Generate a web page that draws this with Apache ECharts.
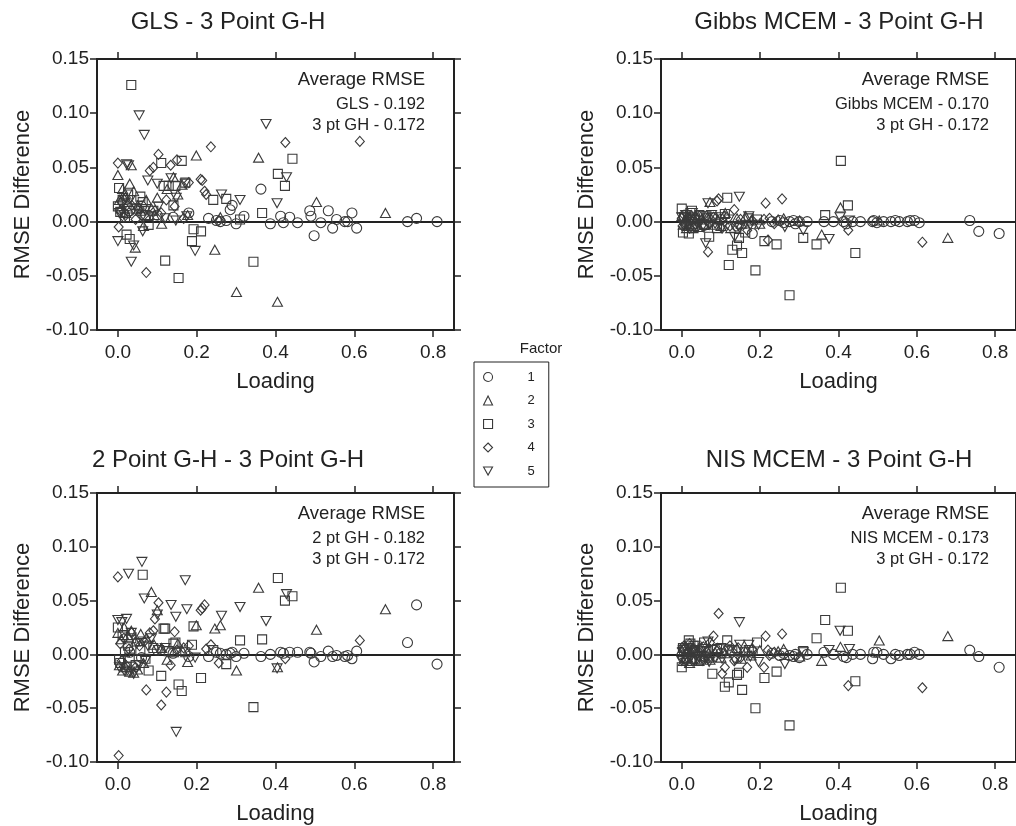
<!DOCTYPE html>
<html><head><meta charset="utf-8">
<script src="https://cdn.jsdelivr.net/npm/echarts@6/dist/echarts.min.js"></script>
<style>html,body{margin:0;padding:0;background:#fff}#c{width:1016px;height:826px}</style>
</head><body><div id="c"></div><script>
// ---------- data ----------
const titles = ['GLS - 3 Point G-H', 'Gibbs MCEM - 3 Point G-H', '2 Point G-H - 3 Point G-H', 'NIS MCEM - 3 Point G-H'];
const methodLines = ['GLS - 0.192', 'Gibbs MCEM - 0.170', '2 pt GH - 0.182', 'NIS MCEM - 0.173'];
const refLine = '3 pt GH - 0.172';
const avgHeader = 'Average RMSE';
const xTicks = [0, 0.2, 0.4, 0.6, 0.8];
const factorNames = ['1', '2', '3', '4', '5'];

// loadings of the items of each factor (shared by all four panels)
const load1 = [0.03, 0.06, 0.10, 0.14, 0.18, 0.23, 0.25, 0.26, 0.275, 0.285, 0.29, 0.30, 0.32, 0.363, 0.387, 0.413, 0.42, 0.436, 0.456, 0.487, 0.49, 0.498, 0.515, 0.534, 0.545, 0.555, 0.576, 0.583, 0.594, 0.606, 0.735, 0.758, 0.81];
const load2 = [0.000, 0.004, 0.008, 0.012, 0.016, 0.020, 0.025, 0.030, 0.034, 0.040, 0.044, 0.050, 0.058, 0.065, 0.072, 0.085, 0.092, 0.100, 0.111, 0.125, 0.141, 0.152, 0.163, 0.177, 0.199, 0.246, 0.260, 0.301, 0.357, 0.405, 0.504, 0.679];
const load3 = [0.000, 0.003, 0.006, 0.012, 0.018, 0.022, 0.026, 0.030, 0.034, 0.045, 0.057, 0.063, 0.070, 0.078, 0.090, 0.110, 0.116, 0.120, 0.129, 0.141, 0.146, 0.154, 0.162, 0.171, 0.188, 0.192, 0.211, 0.242, 0.275, 0.310, 0.344, 0.366, 0.406, 0.424, 0.443];
const load4 = [0.000, 0.002, 0.006, 0.010, 0.015, 0.020, 0.028, 0.035, 0.045, 0.055, 0.067, 0.072, 0.081, 0.090, 0.094, 0.103, 0.110, 0.123, 0.134, 0.144, 0.150, 0.167, 0.180, 0.210, 0.214, 0.220, 0.224, 0.236, 0.256, 0.425, 0.614];
const load5 = [0.000, 0.004, 0.010, 0.016, 0.022, 0.027, 0.031, 0.034, 0.040, 0.048, 0.054, 0.061, 0.063, 0.067, 0.070, 0.076, 0.085, 0.100, 0.103, 0.120, 0.135, 0.147, 0.148, 0.171, 0.175, 0.196, 0.263, 0.310, 0.376, 0.404, 0.428];

// RMSE differences: GLS - 3 pt GH
const gls1 = [0.010, 0.014, 0.006, 0.004, 0.008, 0.003, 0.001, 0.000, 0.001, 0.011, 0.015, -0.002, 0.005, 0.030, -0.002, 0.005, -0.001, 0.004, -0.001, 0.010, 0.005, -0.013, -0.001, 0.010, -0.006, 0.002, 0.000, 0.000, 0.008, -0.006, 0.000, 0.003, 0.000];
const gls2 = [0.043, 0.020, 0.012, 0.030, 0.025, 0.008, 0.018, 0.035, 0.052, 0.028, -0.024, 0.015, 0.010, -0.004, 0.020, 0.012, 0.006, 0.022, -0.002, 0.030, 0.041, 0.025, 0.034, 0.006, 0.061, -0.026, 0.004, -0.065, 0.059, -0.074, 0.018, 0.008];
const gls3 = [0.014, 0.031, 0.009, 0.020, 0.004, -0.012, 0.025, -0.016, 0.126, 0.012, 0.023, 0.018, 0.006, -0.003, 0.010, 0.054, 0.033, -0.036, 0.033, 0.015, 0.033, -0.052, 0.056, 0.036, -0.018, -0.007, -0.009, 0.020, 0.021, 0.002, -0.037, 0.008, 0.044, 0.033, 0.058];
const gls4 = [0.054, -0.005, 0.010, 0.018, 0.004, 0.022, 0.008, 0.015, 0.002, 0.012, 0.006, -0.047, 0.047, 0.050, 0.010, 0.062, 0.008, 0.020, 0.052, 0.014, 0.057, 0.003, 0.036, 0.039, 0.038, 0.028, 0.025, 0.069, 0.001, 0.073, 0.074];
const gls5 = [-0.018, 0.008, 0.015, 0.006, 0.053, 0.052, 0.020, -0.037, -0.022, 0.012, 0.098, 0.004, -0.009, 0.080, 0.010, 0.038, 0.005, 0.035, 0.014, 0.003, 0.040, 0.001, 0.022, 0.035, 0.005, -0.027, 0.025, 0.020, 0.090, 0.017, 0.041];

// Gibbs MCEM - 3 pt GH
const gibbs1 = [0.004, -0.003, 0.002, -0.004, -0.011, 0.000, 0.001, -0.001, 0.000, 0.001, -0.002, 0.000, 0.000, 0.000, 0.000, 0.000, -0.002, 0.000, 0.000, 0.000, 0.001, -0.001, 0.000, 0.000, 0.001, 0.000, 0.000, 0.001, 0.001, -0.001, 0.001, -0.009, -0.011];
const gibbs2 = [0.005, -0.003, 0.002, -0.006, 0.004, -0.002, 0.006, -0.004, 0.001, 0.003, -0.005, 0.002, -0.002, 0.004, 0.018, -0.003, 0.002, -0.004, 0.008, -0.006, 0.003, -0.002, 0.005, 0.001, -0.002, 0.002, 0.003, 0.001, -0.012, 0.013, 0.001, -0.015];
const gibbs3 = [0.012, -0.010, 0.004, -0.004, -0.011, 0.008, 0.010, -0.006, 0.003, 0.006, -0.003, 0.005, -0.014, 0.004, -0.006, 0.007, 0.022, -0.040, -0.026, -0.022, -0.015, -0.029, -0.010, 0.003, -0.045, 0.002, -0.018, -0.021, -0.068, -0.015, -0.021, 0.006, 0.056, 0.015, -0.029];
const gibbs4 = [0.003, -0.004, 0.006, -0.002, 0.004, -0.006, 0.002, -0.003, 0.005, -0.005, -0.028, 0.003, 0.004, 0.019, 0.021, -0.006, 0.005, -0.004, 0.011, -0.003, 0.002, -0.008, 0.001, 0.002, 0.017, -0.017, 0.003, -0.002, 0.021, -0.008, -0.019];
const gibbs5 = [0.004, -0.003, 0.006, -0.005, 0.002, 0.008, -0.006, 0.001, -0.002, 0.005, -0.004, -0.020, 0.003, 0.017, -0.003, 0.006, -0.002, 0.004, -0.005, 0.002, -0.014, 0.023, -0.006, 0.005, -0.003, -0.003, -0.005, -0.008, -0.016, 0.004, 0.001];

// 2 pt GH - 3 pt GH
const gh2_1 = [0.002, -0.003, 0.004, 0.001, -0.002, -0.002, 0.002, 0.001, 0.000, 0.001, 0.002, -0.002, 0.001, -0.002, 0.000, 0.002, 0.001, 0.002, 0.002, 0.002, 0.001, -0.007, -0.002, 0.003, -0.002, -0.001, -0.002, -0.001, -0.004, 0.003, 0.011, 0.046, -0.009];
const gh2_2 = [0.020, -0.010, 0.014, -0.015, 0.025, -0.012, 0.018, -0.016, 0.022, -0.017, 0.012, -0.014, 0.019, -0.008, 0.015, 0.058, 0.009, 0.041, 0.006, -0.005, 0.002, 0.010, 0.004, -0.007, 0.027, 0.024, 0.027, -0.015, 0.062, -0.012, 0.023, 0.042];
const gh2_3 = [0.025, -0.005, -0.008, 0.018, 0.002, -0.012, 0.008, -0.003, 0.015, -0.010, 0.004, 0.074, -0.004, -0.015, 0.006, -0.020, 0.024, 0.024, 0.003, 0.010, 0.011, -0.028, -0.034, 0.002, 0.009, 0.026, -0.022, 0.004, -0.009, 0.013, -0.049, 0.014, 0.071, 0.050, 0.054];
const gh2_4 = [0.072, -0.094, 0.010, -0.006, 0.015, -0.010, 0.005, 0.020, -0.012, 0.008, 0.012, -0.033, 0.020, 0.022, 0.033, 0.048, -0.047, -0.035, -0.010, 0.021, 0.004, 0.006, 0.008, 0.041, 0.043, 0.046, 0.005, 0.009, -0.008, -0.004, 0.013];
const gh2_5 = [0.032, -0.012, 0.030, -0.015, 0.033, 0.075, -0.016, 0.020, -0.018, 0.010, -0.010, 0.086, 0.012, 0.052, -0.006, 0.008, 0.015, 0.037, 0.004, 0.006, 0.046, 0.035, -0.072, 0.069, 0.042, -0.003, 0.036, 0.044, 0.031, -0.013, 0.056];

// NIS MCEM - 3 pt GH
const nis1 = [0.003, -0.002, 0.001, -0.003, 0.002, 0.001, -0.001, 0.001, -0.001, -0.002, 0.000, -0.003, 0.000, 0.002, 0.000, -0.002, -0.003, 0.000, 0.000, -0.004, 0.002, 0.002, 0.000, -0.004, 0.000, -0.001, 0.000, 0.000, 0.002, 0.000, 0.004, -0.002, -0.012];
const nis2 = [0.004, -0.006, 0.008, -0.003, 0.005, -0.008, 0.002, 0.006, -0.004, 0.003, -0.006, 0.007, -0.002, 0.004, -0.005, 0.002, 0.006, -0.003, 0.001, 0.004, 0.006, -0.004, 0.003, -0.001, 0.004, 0.003, 0.005, -0.002, -0.006, 0.007, 0.013, 0.017];
const nis3 = [-0.012, 0.006, 0.002, -0.004, 0.013, 0.010, -0.006, 0.008, 0.004, -0.005, 0.011, 0.003, -0.003, -0.018, 0.005, -0.030, 0.013, -0.026, 0.004, -0.019, -0.017, -0.033, 0.002, 0.004, -0.050, 0.011, -0.022, -0.016, -0.066, 0.003, 0.015, 0.032, 0.062, 0.022, -0.025];
const nis4 = [0.006, -0.003, 0.008, -0.005, 0.002, 0.010, -0.006, 0.004, -0.002, 0.007, -0.004, 0.011, 0.017, 0.003, 0.038, -0.018, -0.012, 0.008, -0.006, 0.006, -0.003, -0.012, 0.005, -0.012, 0.017, 0.004, -0.001, 0.002, 0.019, -0.029, -0.031];
const nis5 = [-0.006, 0.004, -0.008, 0.006, -0.003, 0.002, -0.005, 0.008, -0.004, 0.003, -0.006, 0.005, -0.002, 0.012, -0.007, 0.004, -0.003, 0.006, -0.004, 0.003, -0.005, 0.030, 0.009, 0.009, -0.002, -0.007, -0.009, 0.002, 0.004, 0.022, 0.005];

// ---------- chart ----------
const loads = [load1, load2, load3, load4, load5];
const panelValues = [
  [gls1, gls2, gls3, gls4, gls5],
  [gibbs1, gibbs2, gibbs3, gibbs4, gibbs5],
  [gh2_1, gh2_2, gh2_3, gh2_4, gh2_5],
  [nis1, nis2, nis3, nis4, nis5]
];
const FONT = '"Liberation Sans", Arial, Helvetica, sans-serif';
const INK = '#222';
const PT = '#3a3a3a';
const gridPos = [[97, 59], [661, 59], [97, 493], [661, 493]];
const titleCenters = [[228, 22], [839, 22], [228, 460], [839, 460]];
const GW = 357, GH = 271;
const INV_TRI = 'path://M0,0 L10,0 L5,9 Z';
const symbolDefs = [
  { symbol: 'circle', size: 10, rotate: 0 },
  { symbol: 'triangle', size: [10, 9], rotate: 0 },
  { symbol: 'rect', size: 9, rotate: 0 },
  { symbol: 'diamond', size: [9, 10], rotate: 0 },
  { symbol: 'triangle', size: [10, 9], rotate: 180 }
];

const grids = [], xAxes = [], yAxes = [], series = [], graphics = [];
gridPos.forEach((p, i) => {
  grids.push({ left: p[0], top: p[1], width: GW, height: GH, show: true, borderColor: INK, borderWidth: 2, backgroundColor: 'transparent', containLabel: false });
  const tickStyle = { show: true, inside: false, length: 7, lineStyle: { color: INK, width: 1.5 }, customValues: xTicks };
  xAxes.push({
    gridIndex: i, type: 'value', position: 'bottom', min: -0.053, max: 0.853,
    axisLine: { show: true, onZero: false, lineStyle: { color: INK, width: 2 } },
    axisTick: tickStyle,
    axisLabel: { show: true, customValues: xTicks, formatter: v => v.toFixed(1), color: INK, fontFamily: FONT, fontSize: 19, margin: 13 },
    splitLine: { show: false },
    name: 'Loading', nameLocation: 'middle', nameGap: 41,
    nameTextStyle: { color: INK, fontFamily: FONT, fontSize: 22 }
  });
  xAxes.push({
    gridIndex: i, type: 'value', position: 'top', min: -0.053, max: 0.853,
    axisLine: { show: true, onZero: false, lineStyle: { color: INK, width: 2 } },
    axisTick: tickStyle,
    axisLabel: { show: false },
    splitLine: { show: false }
  });
  const yTick = { show: true, inside: false, length: 7, lineStyle: { color: INK, width: 1.5 } };
  yAxes.push({
    gridIndex: i, type: 'value', position: 'left', min: -0.1, max: 0.15, interval: 0.05,
    axisLine: { show: true, onZero: false, lineStyle: { color: INK, width: 2 } },
    axisTick: yTick,
    axisLabel: { show: true, formatter: v => v.toFixed(2), color: INK, fontFamily: FONT, fontSize: 19, margin: 8 },
    splitLine: { show: false },
    name: 'RMSE Difference', nameLocation: 'middle', nameGap: 63, nameRotate: 90,
    nameTextStyle: { color: INK, fontFamily: FONT, fontSize: 22 }
  });
  yAxes.push({
    gridIndex: i, type: 'value', position: 'right', min: -0.1, max: 0.15, interval: 0.05,
    axisLine: { show: true, onZero: false, lineStyle: { color: INK, width: 2 } },
    axisTick: yTick,
    axisLabel: { show: false },
    splitLine: { show: false }
  });

  loads.forEach((ld, f) => {
    const vals = panelValues[i][f];
    const sd = symbolDefs[f];
    const s = {
      type: 'scatter', name: factorNames[f], xAxisIndex: i * 2, yAxisIndex: i * 2,
      data: ld.map((x, k) => [x, vals[k]]),
      symbol: sd.symbol, symbolSize: sd.size, symbolRotate: sd.rotate,
      itemStyle: { color: 'transparent', borderColor: PT, borderWidth: 1.1, opacity: 1 },
      emphasis: { disabled: true }, silent: true, z: 3
    };
    if (f === 0) {
      s.markLine = {
        silent: true, symbol: ['none', 'none'], label: { show: false },
        lineStyle: { color: INK, width: 2, type: 'solid' },
        emphasis: { disabled: true },
        data: [{ yAxis: 0 }], z: 2
      };
    }
    series.push(s);
  });

  // panel title
  graphics.push({
    type: 'text', x: titleCenters[i][0], y: titleCenters[i][1],
    style: { text: titles[i], fill: INK, font: '24px ' + FONT, align: 'center', verticalAlign: 'middle', textAlign: 'center', textVerticalAlign: 'middle' }
  });
  // annotation
  const ax = p[0] + GW - 29;
  graphics.push({
    type: 'text', x: ax, y: p[1] + 21,
    style: { text: avgHeader, fill: INK, font: '18.5px ' + FONT, align: 'right', verticalAlign: 'middle', textAlign: 'right', textVerticalAlign: 'middle' }
  });
  graphics.push({
    type: 'text', x: ax, y: p[1] + 45,
    style: { text: methodLines[i], fill: INK, font: '16.5px ' + FONT, align: 'right', verticalAlign: 'middle', textAlign: 'right', textVerticalAlign: 'middle' }
  });
  graphics.push({
    type: 'text', x: ax, y: p[1] + 66,
    style: { text: refLine, fill: INK, font: '16.5px ' + FONT, align: 'right', verticalAlign: 'middle', textAlign: 'right', textVerticalAlign: 'middle' }
  });
});

graphics.push({
  type: 'text', x: 541, y: 349,
  style: { text: 'Factor', fill: INK, font: '15px ' + FONT, align: 'center', verticalAlign: 'middle', textAlign: 'center', textVerticalAlign: 'middle' }
});

const legendData = factorNames.map((n, f) => f === 4 ? { name: n, icon: INV_TRI } : { name: n });

const chart = echarts.init(document.getElementById('c'), null, { renderer: 'canvas' });
chart.setOption({
  animation: false,
  backgroundColor: '#fff',
  grid: grids,
  xAxis: xAxes,
  yAxis: yAxes,
  legend: {
    show: true, orient: 'vertical', left: 474, top: 362,
    data: legendData,
    selectedMode: false,
    itemWidth: 9, itemHeight: 9, itemGap: 10.5,
    padding: [8.5, 14, 9.5, 9],
    borderColor: INK, borderWidth: 1,
    itemStyle: { color: 'transparent', borderColor: PT, borderWidth: 1.1 },
    textStyle: { color: INK, fontFamily: FONT, fontSize: 13, padding: [0, 0, 0, 30] }
  },
  tooltip: { show: false },
  graphic: { elements: graphics },
  series: series
});
</script></body></html>
